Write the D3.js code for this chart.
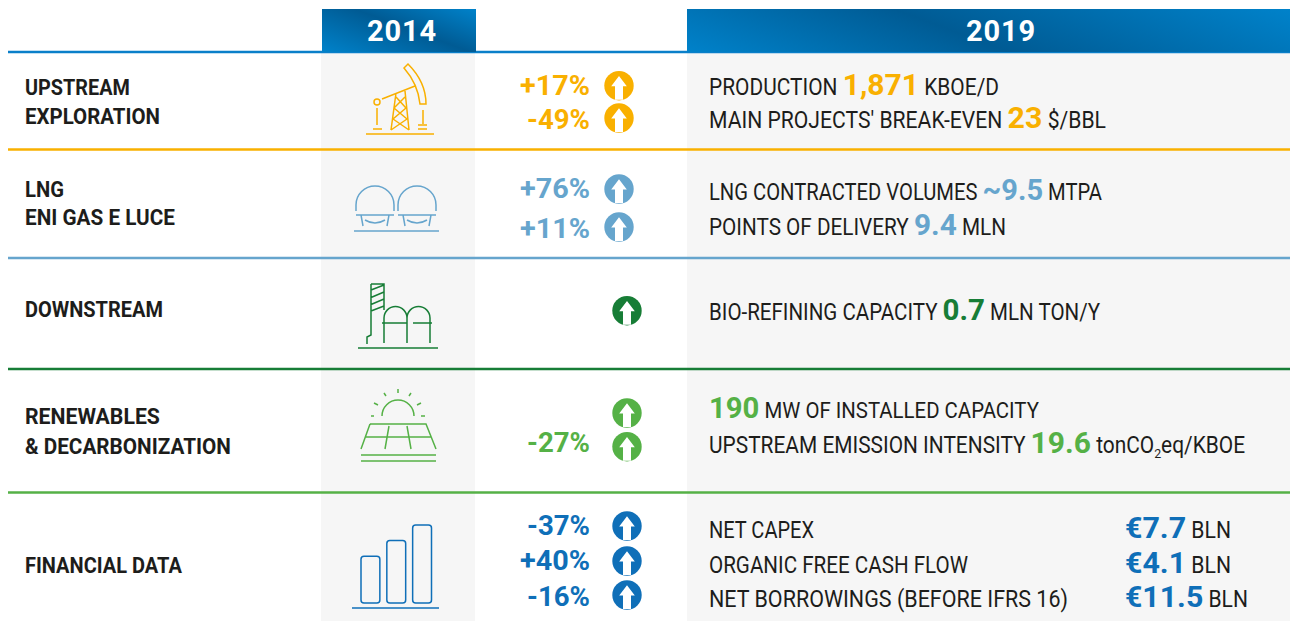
<!DOCTYPE html>
<html><head><meta charset="utf-8">
<script src="https://cdn.jsdelivr.net/npm/d3@7/dist/d3.min.js"></script>
<style>html,body{margin:0;padding:0;background:#fff}svg{display:block}text{font-family:Roboto,"Liberation Sans",sans-serif;white-space:pre}</style>
</head><body><svg id="c" width="1290" height="621"></svg>
<script>
// ---- data ----
const years = ["2014", "2019"];
const segments = ["upstream", "lng", "downstream", "renewables", "financial"];
const segmentColors = ["#f9b000", "#66a5cd", "#177d36", "#55b146", "#0f6fb8"];
const segmentLabels = [["UPSTREAM", "EXPLORATION"], ["LNG", "ENI GAS E LUCE"], ["DOWNSTREAM"], ["RENEWABLES", "& DECARBONIZATION"], ["FINANCIAL DATA"]];
const changes = [["+17%", "-49%"], ["+76%", "+11%"], [""], ["", "-27%"], ["-37%", "+40%", "-16%"]];
const metrics2019 = [
  [[["PRODUCTION ", 0], ["1,871", 1], [" KBOE/D", 0]], [["MAIN PROJECTS' BREAK-EVEN ", 0], ["23", 1], [" $/BBL", 0]]],
  [[["LNG CONTRACTED VOLUMES ", 0], ["~9.5", 1], [" MTPA", 0]], [["POINTS OF DELIVERY ", 0], ["9.4", 1], [" MLN", 0]]],
  [[["BIO-REFINING CAPACITY ", 0], ["0.7", 1], [" MLN TON/Y", 0]]],
  [[["190", 1], [" MW OF INSTALLED CAPACITY", 0]], [["UPSTREAM EMISSION INTENSITY ", 0], ["19.6", 1], [" tonCO", 0], ["2", 2], ["eq/KBOE", 0]]],
  [[["NET CAPEX", 0]], [["ORGANIC FREE CASH FLOW", 0]], [["NET BORROWINGS (BEFORE IFRS 16)", 0]]]
];
const financialValues = [[["€7.7", 1], [" BLN", 0]], [["€4.1", 1], [" BLN", 0]], [["€11.5", 1], [" BLN", 0]]];
const financialBars = [1.8, 2.4, 3];

// ---- layout ----
const svg = d3.select("#c");
const ink = "#1d1d1b";
const ruleY = [52, 149.5, 258, 369, 492.5];
const labelBase = [[95, 124], [197, 225], [317], [424, 454], [573]];
const labelEnd = [[130, 160], [64, 175], [163], [160, 231], [182]];
const pctBase = [[95, 129], [198, 238], [], [0, 452], [535, 570, 606]];
const circleY = [[85.7, 118], [189, 227], [310.7], [413, 446.7], [526, 561, 595]];
const circleX = [619, 619, 627, 627, 627];
const lineBase = [[95, 128], [200, 235], [320], [418, 453], [538, 573, 607]];
const lineEnd = [[999, 1106], [1102, 1006], [1100], [1039, 1245], [814, 968, 1068]];
const finEnd = [1231, 1231, 1248];

const defs = svg.append("defs");
function grad(id, p0, p1, stops) {
  const g = defs.append("linearGradient").attr("id", id).attr("gradientUnits", "userSpaceOnUse")
    .attr("x1", p0[0]).attr("y1", p0[1]).attr("x2", p1[0]).attr("y2", p1[1]);
  stops.forEach(s => g.append("stop").attr("offset", s[0]).attr("stop-color", s[1]));
}
grad("h14", [322, 52], [354.6, -36], [[0, "#0082ca"], [0.55, "#005b94"], [1, "#0082ca"]]);
grad("h19", [687, 52], [773.9, -182], [[0, "#0082ca"], [0.45, "#005b94"], [1, "#0082ca"]]);

// gray bands
svg.append("rect").attr("x", 321).attr("y", 52).attr("width", 154).attr("height", 569).attr("fill", "#f6f6f6");
svg.append("rect").attr("x", 687).attr("y", 52).attr("width", 603).attr("height", 569).attr("fill", "#f6f6f6");

// rules
const ruleColors = ["#0a7fc9"].concat(segmentColors.slice(0, 4));
ruleY.forEach((y, i) => svg.append("line").attr("x1", 8).attr("x2", 1290).attr("y1", y).attr("y2", y).attr("stroke", ruleColors[i]).attr("stroke-width", 2.4));

// headers
[[322, 154, "h14", 402], [687, 603, "h19", 1001]].forEach((h, i) => {
  svg.append("rect").attr("x", h[0]).attr("y", 9).attr("width", h[1]).attr("height", 43).attr("fill", `url(#${h[2]})`);
  svg.append("text").attr("x", h[3]).attr("y", 41).attr("text-anchor", "middle").attr("fill", "#fff")
    .attr("font-size", 29).attr("font-weight", 700).attr("letter-spacing", 0.8).text(years[i]);
});

// a line of text made of spans: regular text is condensed, highlighted figures widened, the line fitted to its end
const spanWidth = [0.86, 0.98, 0.9];
function fit(x, y, end, spans, color, base, bold, big) {
  const g = svg.append("g");
  let cursor = 0;
  spans.forEach(s => {
    const t = g.append("text").attr("fill", s[1] === 1 ? color : ink).text(s[0])
      .attr("font-size", s[1] === 1 ? big : s[1] === 2 ? 13 : base)
      .attr("font-weight", bold || s[1] === 1 ? 700 : 400);
    const k = bold ? 1 : spanWidth[s[1]];
    t.attr("transform", `translate(${cursor},${s[1] === 2 ? 5 : 0}) scale(${k},1)`);
    cursor += t.node().getComputedTextLength() * k;
  });
  g.attr("transform", `translate(${x},${y}) scale(${(end - x) / cursor},1)`);
}

segments.forEach((seg, i) => {
  const col = segmentColors[i];
  segmentLabels[i].forEach((l, j) => fit(25, labelBase[i][j], labelEnd[i][j], [[l, 0]], col, 22, true, 22));
  metrics2019[i].forEach((m, j) => fit(709, lineBase[i][j], lineEnd[i][j], m, col, 23, false, 29));
  changes[i].forEach((c, j) => {
    if (!c) return;
    svg.append("text").attr("x", 590).attr("y", pctBase[i][j]).attr("text-anchor", "end").attr("fill", col)
      .attr("font-size", 27).attr("font-weight", 700).attr("textLength", c[0] === "+" ? 70 : 63).attr("lengthAdjust", "spacingAndGlyphs").text(c);
  });
  // circles with arrows
  circleY[i].forEach(cy => {
    const g = svg.append("g").attr("transform", `translate(${circleX[i]},${cy})`);
    g.append("circle").attr("r", 14.7).attr("fill", col);
    g.append("path").attr("d", "M0,-9.7L7.8,0.5L4,0.5L4,14.1L-4,14.1L-4,0.5L-7.8,0.5Z").attr("fill", "#fff");
  });
});
financialValues.forEach((v, j) => fit(1125, lineBase[4][j], finEnd[j], v, segmentColors[4], 23, false, 29));

// icons
function icon(col, d) {
  svg.append("path").attr("d", d).attr("fill", "none").attr("stroke", col).attr("stroke-width", 1.5);
}
icon(segmentColors[0],
  "M366,134H434M391,130L396,93M409,130L405,91M394,108L407,119M406,108L393,119M393,119L409,130M407,119L391,130M396,97L406,108M405,97L394,108" +
  "M382,99L415,86M377,108V125M373,129H382M423,110V124M418,125H427M418,129H427" +
  "M404,68L408,64Q426,82 426,104H420Q418,84 404,68Z" +
  "M380,102A3,3 0 1 1 374,102A3,3 0 1 1 380,102");
[0, 42].forEach(dx => icon(segmentColors[1],
  `M${356+dx},211V205A19,19 0 0 1 ${394+dx},205V211M${356+dx},215H${394+dx}M${361+dx},215L${363+dx},226M${389+dx},215L${387+dx},226M${365+dx},220Q${375+dx},226 ${385+dx},220`));
icon(segmentColors[1], "M354,231H439");
icon(segmentColors[2],
  "M358,348H438M371,284H384V310M371,284V335L367,337V344M371,290L384,285M371,297.5L384,292M371,304.5L384,299M371,311L384,306" +
  "M384,343V318A11.5,11.5 0 0 1 407,318V343M407,318A11.5,11.5 0 0 1 430,318V343M382,323H407M413,323H432");
icon(segmentColors[3],
  "M361,455H436M361,461H436M370,424H426L436,449M370,424L361,449M365,437H431M389,426L385,449M407,426L411,449" +
  "M382,416A16,16 0 0 1 414,416M371,416H374M374,403L378,405M384,393L386,396M398,389V393M411,393L409,396M421,403L417,405M421,416H425");
icon(segmentColors[4], "M352,608H439");
const barX = d3.scaleBand().domain(d3.range(financialBars.length)).range([361, 431.5]).paddingInner(0.27).paddingOuter(0);
const barY = d3.scaleLinear().domain([0, 3]).range([603, 525]);
svg.selectAll("rect.fb").data(financialBars).join("rect").attr("class", "fb")
  .attr("x", (d, i) => barX(i)).attr("width", barX.bandwidth())
  .attr("y", d => barY(d)).attr("height", d => barY(0) - barY(d)).attr("rx", 3)
  .attr("fill", "none").attr("stroke", segmentColors[4]).attr("stroke-width", 1.5);
</script></body></html>
